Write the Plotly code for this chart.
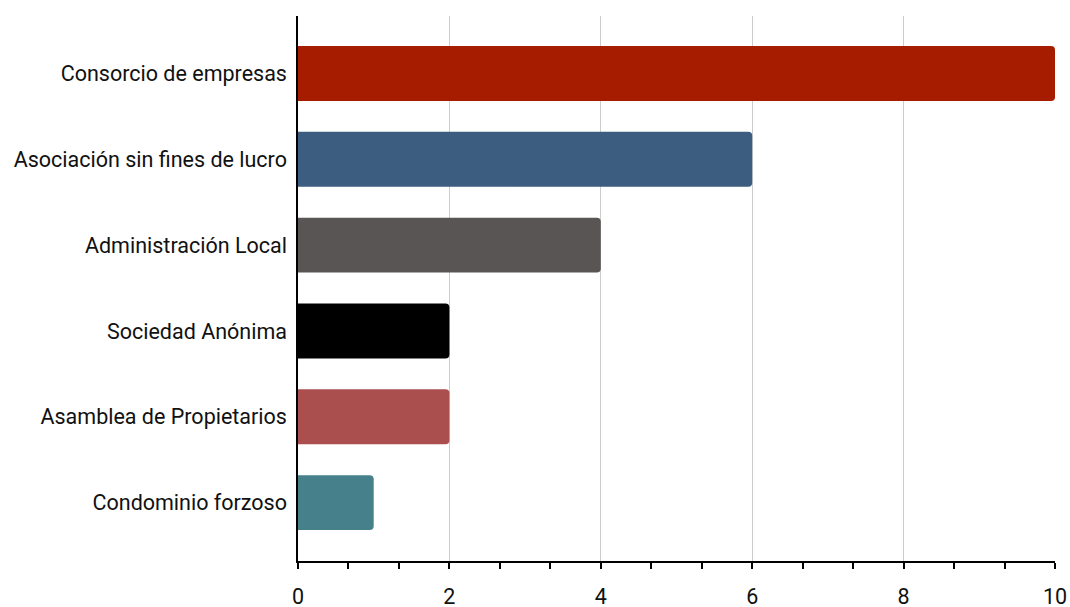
import plotly.graph_objects as go

categories = ["Consorcio de empresas", "Asociación sin fines de lucro", "Administración Local",
              "Sociedad Anónima", "Asamblea de Propietarios", "Condominio forzoso"]
values = [10, 6, 4, 2, 2, 1]
colors = ["#a61c00", "#3c5d80", "#595554", "#000000", "#ab4f4e", "#46808a"]
x_ticks = [0, 2, 4, 6, 8, 10]

fig = go.Figure(go.Bar(
    x=values, y=categories, orientation="h",
    marker=dict(color=colors, line=dict(width=0), cornerradius=4),
    hoverinfo="x+y",
))

fig.update_layout(
    width=1070, height=607,
    margin=dict(l=298, r=15, t=16, b=46, autoexpand=False),
    paper_bgcolor="white", plot_bgcolor="white",
    font=dict(family="Roboto", size=21.5, color="#111111"),
    bargap=0.36,
    showlegend=False,
)
fig.update_xaxes(
    range=[0, 10], tickvals=x_ticks, ticktext=[str(t) for t in x_ticks],
    showgrid=True, gridcolor="#cccccc", gridwidth=1,
    showline=True, linecolor="#000000", linewidth=1.5,
    ticks="", ticklabelstandoff=15, zeroline=False, automargin=False,
    minor=dict(ticks="outside", ticklen=6, tickcolor="#000000", tickwidth=1.5,
               tick0=0, dtick=2/3, showgrid=False),
    tickfont=dict(size=21.5, color="#111111"),
)
fig.update_yaxes(
    type="category", categoryorder="array", categoryarray=categories,
    range=[5.68, -0.67], automargin=False,
    showgrid=False, showline=True, linecolor="#000000", linewidth=1.5,
    ticks="", ticklabelstandoff=5, zeroline=False,
    tickfont=dict(size=21.5, color="#111111"),
)

fig.write_html(
    "out.html",
    config={"displayModeBar": False},
    post_script="document.body.style.margin='0';document.body.style.overflow='hidden';",
)
